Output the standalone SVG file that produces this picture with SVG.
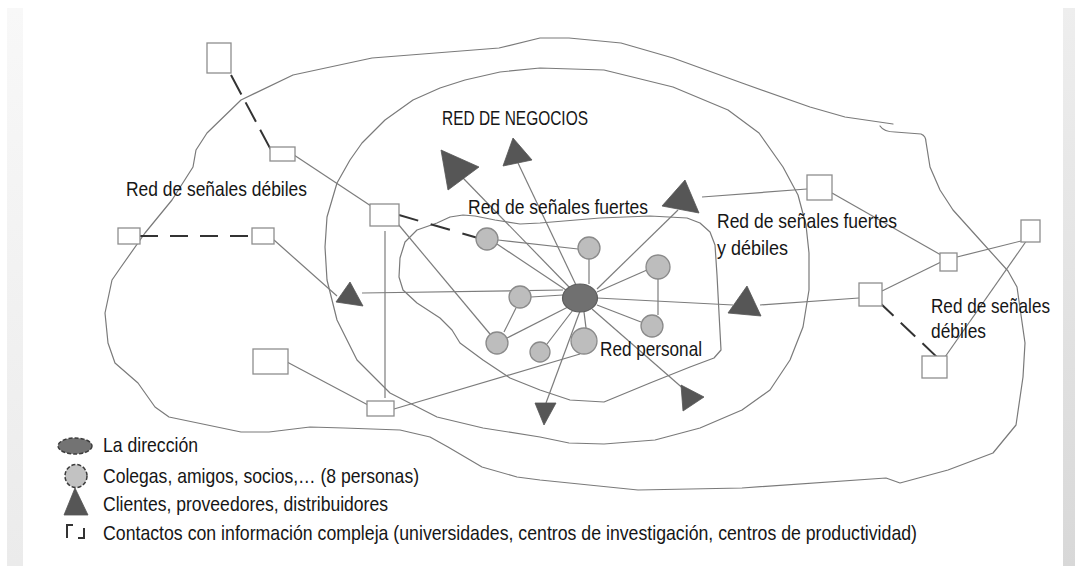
<svg xmlns="http://www.w3.org/2000/svg" width="1075" height="566" viewBox="0 0 1075 566">
<style>
.bg{fill:#ffffff}
.curve{fill:none;stroke:#7a7a7a;stroke-width:1.2;stroke-linejoin:round;stroke-linecap:round}
.ln{stroke:#7c7c7c;stroke-width:1.2;fill:none}
.dash{stroke:#333333;stroke-width:2;fill:none}
.box{fill:#ffffff;stroke:#8e8e8e;stroke-width:1.3}
.per{fill:#bdbdbd;stroke:#8a8a8a;stroke-width:1.3}
.tri{fill:#565656;stroke:#565656;stroke-width:0.8;stroke-linejoin:round}
.dir{fill:#707070;stroke:#5c5c5c;stroke-width:1.2}
.lbl{font-family:"Liberation Sans Narrow","Liberation Sans",Arial,sans-serif;font-size:21px;fill:#161616}
</style>
<defs>
<linearGradient id="gl" x1="0" y1="0" x2="0" y2="1"><stop offset="0" stop-color="#f8f8f8"/><stop offset="1" stop-color="#ebebeb"/></linearGradient>
<linearGradient id="gr" x1="0" y1="0" x2="0" y2="1"><stop offset="0" stop-color="#eeeeee"/><stop offset="1" stop-color="#d8d8d8"/></linearGradient>
</defs>
<rect class="bg" x="0" y="0" width="1075" height="566"/>
<rect x="7" y="8" width="16" height="558" fill="url(#gl)"/>
<rect x="1063" y="8" width="12" height="558" fill="url(#gr)"/>

<g id="contours">
<path class="curve" d="M880,126 Q884,132 895,132 L921,134 Q926,136 926,142 L930,167 L940,190 L953,210 L980,240 L1008,271 L1017,287 L1025,343 L1023,377 L1016,425 L993,453 L948,470 L900,483 L886,478 L742,488 L638,490 L540,480 L517,477 L482,467 L448,447 L430,437 L400,430 L344,428 L310,427 L269,432 L241,432 L169,417 L155,407 L138,383 L115,363 L108,343 L105,313 L112,280 L121,267 L145,233 L172,200 L193,167 L196,150 L207,133 L241,100 L293,75 L372,58 L499,48 L540,38 L569,38 L621,43 L673,58 L742,83 L810,107 L845,117 L893,124"/>
<path class="curve" d="M540,68 L604,70 L673,87 L728,110 L759,133 L783,167 L798,195 L806,225 L809,253 L809,290 L803,327 L790,360 L770,390 L742,410 L700,428 L655,440 L604,444 L569,443 L540,437 L483,428 L437,417 L390,393 L357,360 L337,320 L327,280 L325,247 L327,217 L337,183 L350,160 L362,143 L385,120 L413,100 L440,88 L465,80 L500,72 Z"/>
<path class="curve" d="M463,215 L450,217 L437,223 L417,230 L405,242 L400,258 L399,277 L403,290 L417,303 L440,318 L452,330 L460,343 L483,360 L510,378 L540,390 L570,400 L604,402 L650,383 L690,367 L714,358 L721,350 L719,313 L717,275 L715,245 L710,232 L700,223 L687,218 L650,216 L600,218 L540,223 L520,224 L495,220 L475,216 Z"/>
</g>

<g id="connectors">
<line class="dash" x1="231" y1="75" x2="271" y2="150" stroke-dasharray="22,9"/>
<line class="ln" x1="294" y1="155" x2="371" y2="206"/>
<line class="dash" x1="140" y1="236" x2="252" y2="236" stroke-dasharray="18,12"/>
<line class="ln" x1="274" y1="240" x2="337" y2="296"/>
<line class="dash" x1="399" y1="215" x2="478" y2="238" stroke-dasharray="20,13"/>
<line class="ln" x1="398" y1="224" x2="490" y2="334"/>
<line class="ln" x1="385" y1="231" x2="385" y2="398"/>
<line class="ln" x1="287" y1="362" x2="368" y2="405"/>
<line class="ln" x1="394" y1="409" x2="580" y2="354"/>
<line class="ln" x1="362" y1="293" x2="563" y2="290"/>
<line class="ln" x1="570" y1="288" x2="463" y2="178"/>
<line class="ln" x1="576" y1="285" x2="518" y2="163"/>
<line class="ln" x1="597" y1="289" x2="678" y2="210"/>
<line class="ln" x1="597" y1="298" x2="733" y2="305"/>
<line class="ln" x1="760" y1="305" x2="859" y2="298"/>
<line class="ln" x1="702" y1="197" x2="807" y2="189"/>
<line class="ln" x1="832" y1="193" x2="941" y2="255"/>
<line class="ln" x1="957" y1="257" x2="1025" y2="240"/>
<line class="ln" x1="882" y1="291" x2="941" y2="262"/>
<line class="dash" x1="879" y1="302" x2="940" y2="360" stroke-dasharray="20,10"/>
<line class="ln" x1="945" y1="357" x2="1027" y2="240"/>
<line class="ln" x1="580" y1="311" x2="546" y2="403"/>
<line class="ln" x1="592" y1="309" x2="686" y2="391"/>
<line class="ln" x1="497" y1="244" x2="566" y2="290"/>
<line class="ln" x1="498" y1="240" x2="578" y2="249"/>
<line class="ln" x1="589" y1="259" x2="589" y2="284"/>
<line class="ln" x1="647" y1="270" x2="597" y2="292"/>
<line class="ln" x1="658" y1="279" x2="658" y2="315"/>
<line class="ln" x1="531" y1="297" x2="563" y2="295"/>
<line class="ln" x1="516" y1="308" x2="504" y2="332"/>
<line class="ln" x1="507" y1="338" x2="568" y2="307"/>
<line class="ln" x1="547" y1="344" x2="573" y2="310"/>
<line class="ln" x1="586" y1="328" x2="584" y2="312"/>
<line class="ln" x1="641" y1="322" x2="597" y2="305"/>
</g>

<g id="contacts">
<rect class="box" x="207" y="43" width="24" height="30"/>
<rect class="box" x="270" y="147" width="25" height="14"/>
<rect class="box" x="118" y="228" width="22" height="16"/>
<rect class="box" x="252" y="228" width="22" height="16"/>
<rect class="box" x="370" y="204" width="29" height="22"/>
<rect class="box" x="253" y="349" width="35" height="25"/>
<rect class="box" x="367" y="401" width="27" height="15"/>
<rect class="box" x="807" y="175" width="25" height="25"/>
<rect class="box" x="940" y="253" width="17" height="18"/>
<rect class="box" x="1021" y="220" width="19" height="22"/>
<rect class="box" x="859" y="283" width="23" height="23"/>
<rect class="box" x="922" y="356" width="25" height="22"/>
</g>

<g id="clients">
<polygon class="tri" points="441,150 479,167 448,190"/>
<polygon class="tri" points="513,138 532,160 503,166"/>
<polygon class="tri" points="685,180 699,213 662,206"/>
<polygon class="tri" points="747,286 761,316 728,313"/>
<polygon class="tri" points="535,403 556,403 544,425"/>
<polygon class="tri" points="681,385 704,397 683,411"/>
<polygon class="tri" points="350,282 363,306 336,302"/>
</g>

<g id="persons">
<circle class="per" cx="487" cy="239" r="11"/>
<circle class="per" cx="589" cy="248" r="11"/>
<circle class="per" cx="658" cy="267" r="12"/>
<circle class="per" cx="520" cy="297" r="11"/>
<circle class="per" cx="497" cy="343" r="11"/>
<circle class="per" cx="540" cy="352" r="10"/>
<circle class="per" cx="584" cy="341" r="13"/>
<circle class="per" cx="652" cy="326" r="11"/>
</g>

<g id="direccion">
<ellipse class="dir" cx="580" cy="298" rx="17.5" ry="14"/>
</g>

<g id="labels">
<text class="lbl" x="442" y="125" textLength="146" lengthAdjust="spacingAndGlyphs">RED DE NEGOCIOS</text>
<text class="lbl" x="126" y="196" textLength="181" lengthAdjust="spacingAndGlyphs">Red de señales débiles</text>
<text class="lbl" x="468" y="214" textLength="180" lengthAdjust="spacingAndGlyphs">Red de señales fuertes</text>
<text class="lbl" x="717" y="228" textLength="180" lengthAdjust="spacingAndGlyphs">Red de señales fuertes</text>
<text class="lbl" x="717" y="255" textLength="71" lengthAdjust="spacingAndGlyphs">y débiles</text>
<text class="lbl" x="931" y="313" textLength="119" lengthAdjust="spacingAndGlyphs">Red de señales</text>
<text class="lbl" x="931" y="338" textLength="55" lengthAdjust="spacingAndGlyphs">débiles</text>
<text class="lbl" x="600" y="356" textLength="102" lengthAdjust="spacingAndGlyphs">Red personal</text>
</g>

<g id="legend">
<ellipse cx="75" cy="446" rx="17" ry="8" fill="#737373" stroke="#3c3c3c" stroke-width="1.5" stroke-dasharray="4,2"/>
<ellipse cx="76" cy="476" rx="11" ry="11.5" fill="#c2c2c2" stroke="#3c3c3c" stroke-width="1.5" stroke-dasharray="4,2"/>
<polygon class="tri" points="64,515 75,488 88,515"/>
<path d="M67,538 V525 H73 M78,538 H84 V528" fill="none" stroke="#333333" stroke-width="2"/>
<text class="lbl" x="103" y="452" textLength="95" lengthAdjust="spacingAndGlyphs">La dirección</text>
<text class="lbl" x="103" y="483" textLength="316" lengthAdjust="spacingAndGlyphs">Colegas, amigos, socios,… (8 personas)</text>
<text class="lbl" x="103" y="511" textLength="285" lengthAdjust="spacingAndGlyphs">Clientes, proveedores, distribuidores</text>
<text class="lbl" x="103" y="540" textLength="814" lengthAdjust="spacingAndGlyphs">Contactos con información compleja (universidades, centros de investigación, centros de productividad)</text>
</g>
</svg>
